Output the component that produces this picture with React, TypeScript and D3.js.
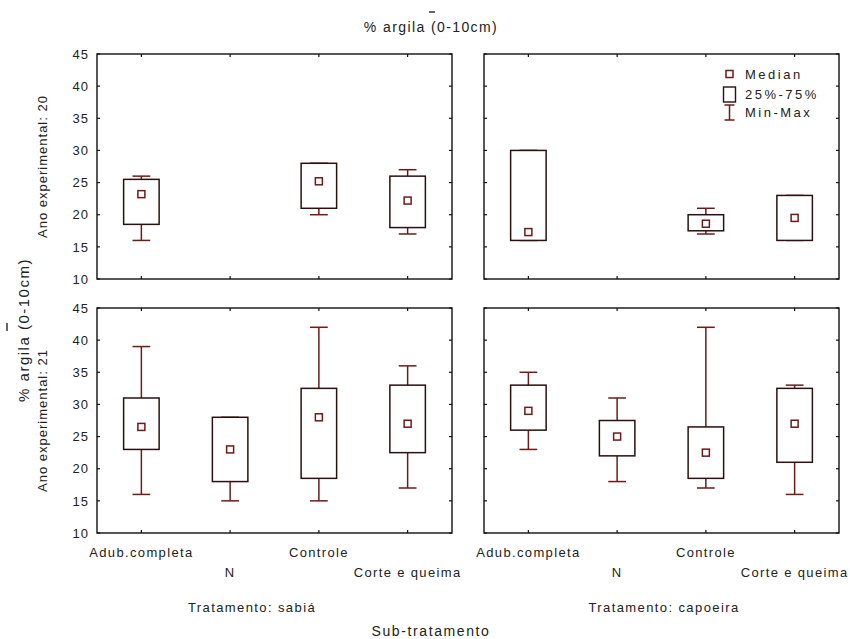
import { useEffect, useRef } from "react";
import * as d3 from "d3";

// categorias do eixo x
const subTreatments = ["Adub.completa", "N", "Controle", "Corte e queima"];
const treatments = ["Tratamento: sabiá", "Tratamento: capoeira"];
const years = ["Ano experimental: 20", "Ano experimental: 21"];
const yTicks = [10, 15, 20, 25, 30, 35, 40, 45];

// [min, q25, mediana, q75, max] por sub-tratamento (null = sem dados)
type Stats = [number, number, number, number, number] | null;
const sabia20: Stats[] = [[16, 18.5, 23.2, 25.5, 26], null, [20, 21, 25.2, 28, 28], [17, 18, 22.2, 26, 27]];
const capoeira20: Stats[] = [[16, 16, 17.3, 30, 30], null, [17, 17.5, 18.6, 20, 21], [16, 16, 19.5, 23, 23]];
const sabia21: Stats[] = [[16, 23, 26.5, 31, 39], [15, 18, 23, 28, 28], [15, 18.5, 28, 32.5, 42], [17, 22.5, 27, 33, 36]];
const capoeira21: Stats[] = [[23, 26, 29, 33, 35], [18, 22, 25, 27.5, 31], [17, 18.5, 22.5, 26.5, 42], [16, 21, 27, 32.5, 33]];

const legendItems = ["Median", "25%-75%", "Min-Max"];

const FONT = "'Liberation Sans', Arial, sans-serif";
const BOX_COLOR = "#6e1a1a";

function App() {
  const ref = useRef<SVGSVGElement>(null);

  useEffect(() => {
    if (!ref.current) return;
    const svg = d3.select(ref.current);
    svg.selectAll("*").remove();

    const colX = [[97, 452], [484, 839]];
    const rowY = [[54, 279], [308, 533]];
    const panels = [
      { row: 0, col: 0, data: sabia20 },
      { row: 0, col: 1, data: capoeira20 },
      { row: 1, col: 0, data: sabia21 },
      { row: 1, col: 1, data: capoeira21 },
    ];

    panels.forEach((p) => {
      const x = d3.scalePoint<string>().domain(subTreatments).range(colX[p.col]).padding(0.5);
      const y = d3.scaleLinear().domain([10, 45]).range([rowY[p.row][1], rowY[p.row][0]]);
      const step = x.step();
      const g = svg.append("g");
      const [x0, x1] = x.range();
      const [y0, y1] = [y(45), y(10)];

      // moldura
      g.append("rect")
        .attr("x", x0).attr("y", y0)
        .attr("width", x1 - x0).attr("height", y1 - y0)
        .style("fill", "none").style("stroke", "#111").style("stroke-width", 1.4);

      // ticks internos
      yTicks.forEach((t) => {
        g.append("line").attr("x1", x0).attr("x2", x0 + 3).attr("y1", y(t)).attr("y2", y(t))
          .style("stroke", "#111").style("stroke-width", 1.2);
        g.append("line").attr("x1", x1).attr("x2", x1 - 3).attr("y1", y(t)).attr("y2", y(t))
          .style("stroke", "#111").style("stroke-width", 1.2);
      });
      subTreatments.forEach((c) => {
        const cx = x(c)!;
        g.append("line").attr("x1", cx).attr("x2", cx).attr("y1", y0).attr("y2", y0 + 3)
          .style("stroke", "#111").style("stroke-width", 1.2);
        g.append("line").attr("x1", cx).attr("x2", cx).attr("y1", y1).attr("y2", y1 - 3)
          .style("stroke", "#111").style("stroke-width", 1.2);
      });

      // rótulos do eixo y
      if (p.col === 0) {
        yTicks.forEach((t) => {
          g.append("text")
            .attr("x", x0 - 8).attr("y", y(t)).attr("dy", "0.36em")
            .attr("text-anchor", "end")
            .style("font-family", FONT).style("font-size", "13px").style("letter-spacing", "1px")
            .style("fill", "#222").text(t);
        });
        g.append("text")
          .attr("transform", `translate(47,${(y0 + y1) / 2}) rotate(-90)`)
          .attr("text-anchor", "middle")
          .style("font-family", FONT).style("font-size", "13px").style("letter-spacing", "1px")
          .style("fill", "#222").text(years[p.row]);
      }

      // rótulos do eixo x (escalonados)
      if (p.row === 1) {
        subTreatments.forEach((c, i) => {
          g.append("text")
            .attr("x", x(c)!).attr("y", i % 2 === 0 ? 557 : 577)
            .attr("text-anchor", "middle")
            .style("font-family", FONT).style("font-size", "13px").style("letter-spacing", "1.35px")
            .style("fill", "#222").text(c);
        });
      }

      // caixas
      const bw = step * 0.4;
      const cw = step * 0.2;
      p.data.forEach((d, i) => {
        if (!d) return;
        const cx = x(subTreatments[i])!;
        const [mn, q1, md, q3, mx] = d;
        const b = g.append("g").style("stroke", BOX_COLOR).style("stroke-width", 1.5).style("fill", "none");
        b.append("line").attr("x1", cx).attr("x2", cx).attr("y1", y(mx)).attr("y2", y(q3));
        b.append("line").attr("x1", cx).attr("x2", cx).attr("y1", y(q1)).attr("y2", y(mn));
        b.append("line").attr("x1", cx - cw / 2).attr("x2", cx + cw / 2).attr("y1", y(mx)).attr("y2", y(mx));
        b.append("line").attr("x1", cx - cw / 2).attr("x2", cx + cw / 2).attr("y1", y(mn)).attr("y2", y(mn));
        b.append("rect")
          .attr("x", cx - bw / 2).attr("y", y(q3))
          .attr("width", bw).attr("height", y(q1) - y(q3))
          .style("fill", "white").style("stroke", "#2a1010");
        b.append("rect")
          .attr("x", cx - 3.5).attr("y", y(md) - 3.5)
          .attr("width", 7).attr("height", 7)
          .style("fill", "white");
      });
    });

    // legenda
    const lg = svg.append("g");
    const lx = 729.5;
    const ly = [74, 94.5, 112.5];
    lg.append("rect").attr("x", lx - 3.5).attr("y", ly[0] - 3.5).attr("width", 7).attr("height", 7)
      .style("fill", "white").style("stroke", BOX_COLOR).style("stroke-width", 1.5);
    lg.append("rect").attr("x", lx - 6).attr("y", ly[1] - 7.5).attr("width", 12).attr("height", 15)
      .style("fill", "white").style("stroke", "#2a1010").style("stroke-width", 1.4);
    lg.append("line").attr("x1", lx).attr("x2", lx).attr("y1", ly[2] - 7.5).attr("y2", ly[2] + 7.5)
      .style("stroke", BOX_COLOR).style("stroke-width", 1.5);
    [-7.5, 7.5].forEach((o) =>
      lg.append("line").attr("x1", lx - 5).attr("x2", lx + 5).attr("y1", ly[2] + o).attr("y2", ly[2] + o)
        .style("stroke", BOX_COLOR).style("stroke-width", 1.5)
    );
    legendItems.forEach((t, i) => {
      lg.append("text").attr("x", 745).attr("y", ly[i]).attr("dy", "0.36em")
        .style("font-family", FONT).style("font-size", "13px").style("letter-spacing", "2.5px")
        .style("fill", "#222").text(t);
    });

    // títulos
    svg.append("text").attr("x", 431).attr("y", 32).attr("text-anchor", "middle")
      .style("font-family", FONT).style("font-size", "14px").style("letter-spacing", "1.4px")
      .style("fill", "#222").text("% argila (0-10cm)");
    svg.append("line").attr("x1", 429).attr("x2", 435).attr("y1", 12).attr("y2", 12)
      .style("stroke", "#333").style("stroke-width", 1.5);

    svg.append("text").attr("transform", "translate(29,330) rotate(-90)").attr("text-anchor", "middle")
      .style("font-family", FONT).style("font-size", "15px").style("letter-spacing", "1.5px")
      .style("fill", "#222").text("% argila (0-10cm)");
    svg.append("line").attr("x1", 7).attr("x2", 7).attr("y1", 323).attr("y2", 331)
      .style("stroke", "#333").style("stroke-width", 1.5);

    const treatX = [252, 664];
    treatments.forEach((t, i) => {
      svg.append("text").attr("x", treatX[i]).attr("y", 612).attr("text-anchor", "middle")
        .style("font-family", FONT).style("font-size", "13px").style("letter-spacing", "1.4px")
        .style("fill", "#222").text(t);
    });

    svg.append("text").attr("x", 431).attr("y", 636).attr("text-anchor", "middle")
      .style("font-family", FONT).style("font-size", "14px").style("letter-spacing", "1.6px")
      .style("fill", "#222").text("Sub-tratamento");
  }, []);

  return (
    <svg
      ref={ref}
      width={850}
      height={639}
      viewBox="0 0 850 639"
      style={{ position: "absolute", left: 0, top: 0, background: "white" }}
    />
  );
}

export default App;
